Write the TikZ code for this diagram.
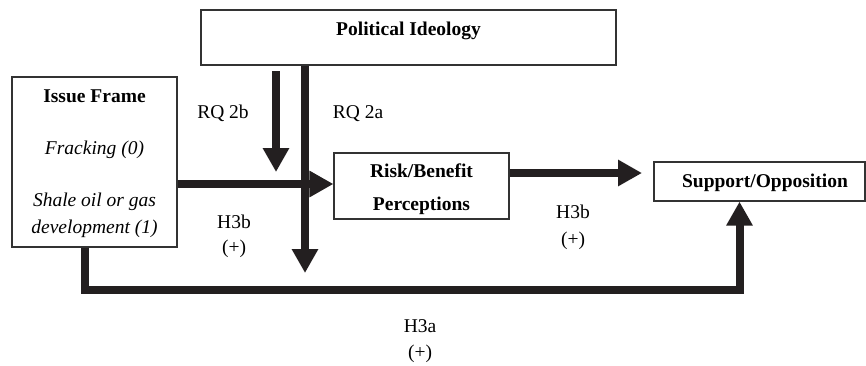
\documentclass[tikz,border=0pt]{standalone}
\usepackage{fontspec}
\setmainfont{Liberation Serif}
\usetikzlibrary{arrows.meta}
\definecolor{ink}{HTML}{231F20}
\tikzset{
  box/.style={draw=black!80, line width=1.2pt, fill=white, inner sep=0pt, rectangle},
  lbl/.style={anchor=base, inner sep=0pt, font=\fontsize{19.5}{24}\selectfont},
  blbl/.style={lbl, font=\fontsize{19.5}{24}\selectfont\bfseries},
  ilbl/.style={lbl, font=\fontsize{19.5}{24}\selectfont\itshape},
  thk/.style={draw=ink, line width=8pt, line join=miter},
  arr/.style={thk, -{Triangle[length=24pt,width=25pt]}}
}
\begin{document}
\begin{tikzpicture}[x=1pt,y=-1pt]
\useasboundingbox[fill=white] (0,0) rectangle (866,365);

% boxes
\node[box, minimum width=415pt, minimum height=55pt] (pol) at (408.5,37.5) {};
\node[box, minimum width=165pt, minimum height=170pt] (issue) at (94.5,162) {};
\node[box, minimum width=175pt, minimum height=66pt] (risk) at (421.5,186) {};
\node[box, minimum width=211pt, minimum height=39pt] (supp) at (759.5,181.5) {};

% box texts
\node[blbl] (tpol) at (408.5,35) {Political Ideology};
\node[blbl] (tis) at (94.5,102) {Issue Frame};
\node[ilbl] (tfr) at (94.5,154) {Fracking (0)};
\node[ilbl] (tsh) at (94.5,206) {Shale oil or gas};
\node[ilbl] (tdv) at (94.5,233) {development (1)};
\node[blbl] (trb) at (421.5,177) {Risk/Benefit};
\node[blbl] (tpc) at (421.5,210) {Perceptions};
\node[blbl] (tsp) at (765,187) {Support/Opposition};

% coordinates for free ends
\coordinate (dn) at (305,273);
\coordinate (q1) at (276,71);
\coordinate (q2) at (276,172);
\coordinate (st) at (642,173);
\coordinate (b1) at (84.5,290);
\coordinate (b2) at (739.5,290);

% connectors
\draw[arr] (pol.south -| dn) -- (dn);
\draw[arr] (q1) -- (q2);
\draw[arr] (issue.east |- 0,184) -- (risk.west |- 0,184);
\draw[arr] (risk.east |- st) -- (st);
\draw[arr] (issue.south -| b1) -- (b1) -- (b2) -- (supp.south -| b2);

% labels
\node[lbl] (rq2b) at (223,118) {RQ 2b};
\node[lbl] (rq2a) at (358,118) {RQ 2a};
\node[lbl] (h3bl) at (234,228) {H3b};
\node[lbl] (h3blp) at (234,253) {(+)};
\node[lbl] (h3br) at (573,218) {H3b};
\node[lbl] (h3brp) at (573,245) {(+)};
\node[lbl] (h3a) at (420,332) {H3a};
\node[lbl] (h3ap) at (420,358) {(+)};
\end{tikzpicture}
\end{document}
